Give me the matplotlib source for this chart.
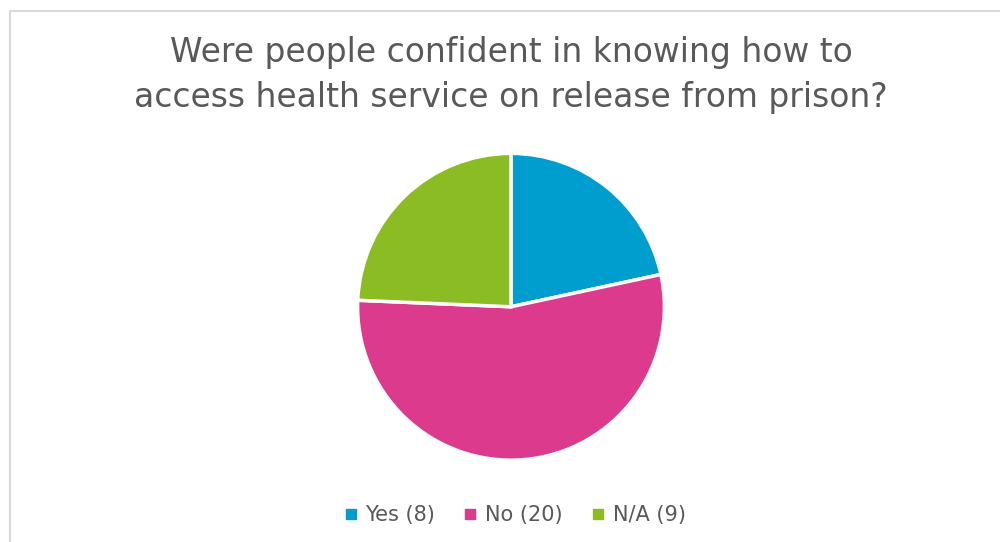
import matplotlib.pyplot as plt
from matplotlib.patches import Rectangle
from matplotlib.lines import Line2D

labels = ["Yes (8)", "No (20)", "N/A (9)"]
values = [8, 20, 9]
colors = ["#009ECF", "#DB3A8D", "#8CBC23"]

fig = plt.figure(figsize=(10, 5.42), dpi=100)

# light grey chart frame (top and left edges visible, runs off right/bottom)
fig.patches.append(Rectangle((0.010, -0.05), 1.05, 1.03, transform=fig.transFigure,
                             fill=False, edgecolor="#D9D9D9", linewidth=1.5))

fig.text(0.511, 0.862, "Were people confident in knowing how to\naccess health service on release from prison?",
         ha="center", va="center", fontsize=23.7, color="#595959", linespacing=1.45)

ax = fig.add_axes([0.3575, 0.151, 0.307, 0.566])
ax.pie(values, colors=colors, startangle=90, counterclock=False,
       wedgeprops=dict(edgecolor="white", linewidth=2.5))
ax.set_xlim(-1, 1)
ax.set_ylim(-1, 1)
ax.set_aspect("equal")
ax.axis("off")

handles = [Line2D([], [], marker="s", linestyle="", markersize=6.5, color=c) for c in colors]
fig.legend(handles, labels, loc="center", bbox_to_anchor=(0.515, 0.05), ncol=3, frameon=False,
           fontsize=15, labelcolor="#595959", handlelength=0.6, handletextpad=0.4,
           columnspacing=1.4)

fig.savefig("out.png", dpi=100)
